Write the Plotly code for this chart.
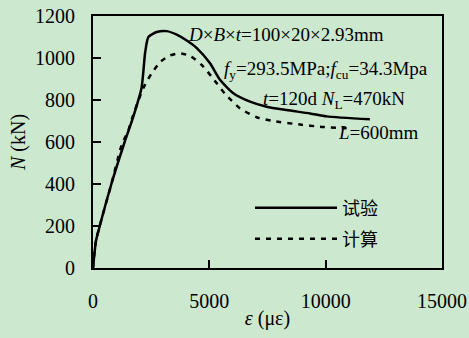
import plotly.graph_objects as go

# Test (试验) curve: strain (με) and load (kN)
test_strain = [0, 130, 290, 790, 1360, 1730, 2090, 2240, 2380, 2740, 3170, 3600, 4030,
               4460, 5030, 5460, 6030, 6750, 7460, 8320, 9330, 10040, 11900]
test_load = [0, 130, 200, 400, 600, 720, 860, 1025, 1100, 1124, 1128, 1111, 1083,
             1047, 975, 896, 832, 792, 768, 752, 736, 722, 708]

# Calculated (计算) curve
calc_strain = [0, 130, 790, 1230, 1520, 1700, 2160, 2520, 2910, 3300, 3700, 4170,
               4670, 5100, 5670, 6320, 7035, 7750, 8900, 9750, 10900]
calc_load = [0, 130, 400, 585, 656, 720, 856, 927, 983, 1012, 1022, 1010,
             967, 911, 830, 760, 718, 700, 683, 673, 665]

x_ticks = [0, 5000, 10000, 15000]
x_labels = ["0", "5000", "10000", "15000"]
y_ticks = [0, 200, 400, 600, 800, 1000, 1200]
y_labels = ["0", "200", "400", "600", "800", "1000", "1200"]

BG = "#CCE8CF"
SERIF = "Liberation Serif, Times New Roman, serif"
CJK = "Noto Sans CJK SC"

fig = go.Figure()
fig.add_trace(go.Scatter(x=test_strain, y=test_load, mode="lines", name="试验",
                         line=dict(color="black", width=2.5, shape="spline", smoothing=0.6),
                         legend="legend"))
fig.add_trace(go.Scatter(x=calc_strain, y=calc_load, mode="lines", name="计算",
                         line=dict(color="black", width=2.5, dash="5px,6px", shape="spline", smoothing=0.6),
                         legend="legend2"))

axis_common = dict(showline=True, linecolor="black", linewidth=2, mirror=True,
                   ticks="inside", ticklen=8, tickwidth=2, tickcolor="black",
                   showgrid=False, zeroline=False, automargin=False,
                   tickfont=dict(family=SERIF, size=20, color="black"))

fig.update_xaxes(range=[0, 15000], tickvals=x_ticks, ticktext=x_labels, ticklabelstandoff=14,
                 title=dict(text="<i>ε</i> (με)", font=dict(family=SERIF, size=20, color="black"), standoff=0),
                 **axis_common)
fig.update_yaxes(range=[0, 1200], tickvals=y_ticks, ticktext=y_labels, ticklabelstandoff=12,
                 title=dict(text="<i>N</i> (kN)", font=dict(family=SERIF, size=20, color="black"), standoff=4),
                 **axis_common)

ann_font = dict(family=SERIF, size=19, color="black")
annotations = [
    ("<i>D</i>×<i>B</i>×<i>t</i>=100×20×2.93mm", 186, 35),
    ("<i>f</i><sub>y</sub>=293.5MPa;<i>f</i><sub>cu</sub>=34.3Mpa", 222, 70),
    ("<i>t</i>=120d <i>N</i><sub>L</sub>=470kN", 261, 100),
    ("<i>L</i>=600mm", 336, 132),
]
for txt, px, py in annotations:
    fig.add_annotation(text=txt, xref="paper", yref="paper",
                       x=(px - 93) / 349, y=(268 - py) / 252,
                       xanchor="left", yanchor="middle", showarrow=False, font=ann_font)

leg_common = dict(bgcolor="rgba(0,0,0,0)", borderwidth=0, itemwidth=82,
                  font=dict(family=CJK, size=18, color="black"),
                  xanchor="left", yanchor="middle", x=(250 - 93) / 349)
fig.update_layout(
    legend=dict(y=(268 - 208) / 252, **leg_common),
    legend2=dict(y=(268 - 239) / 252, **leg_common),
)

fig.update_layout(width=469, height=338, paper_bgcolor=BG, plot_bgcolor=BG,
                  margin=dict(l=93, r=27, t=16, b=70), showlegend=True)

fig.write_html("out.html", config={"displayModeBar": False},
               post_script="document.body.style.margin='0';document.body.style.background='%s';" % BG)
